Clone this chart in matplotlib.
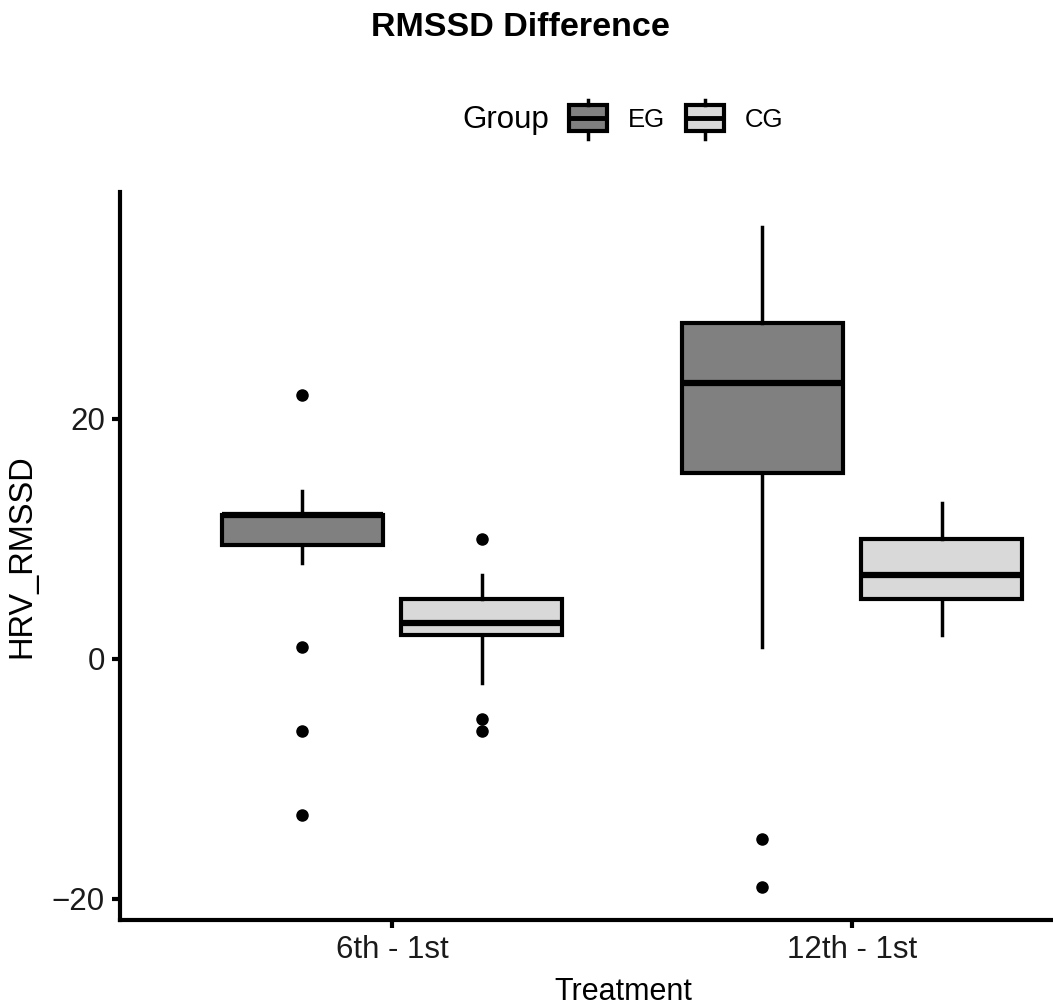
import matplotlib
matplotlib.use("Agg")
from matplotlib import pyplot as plt
from matplotlib.patches import Rectangle
from matplotlib.lines import Line2D

plt.rcParams['font.family'] = ['Liberation Sans', 'DejaVu Sans']

treatments = ["6th - 1st", "12th - 1st"]
groups = ["EG", "CG"]
colors = {"EG": "#808080", "CG": "#d9d9d9"}

# box statistics, per group, per treatment
q1 = {"EG": [9.5, 15.5], "CG": [2, 5]}
med = {"EG": [12, 23], "CG": [3, 7]}
q3 = {"EG": [12, 28], "CG": [5, 10]}
whislo = {"EG": [8, 1], "CG": [-2, 2]}
whishi = {"EG": [14, 36], "CG": [7, 13]}
fliers = {"EG": [[22, 1, -6, -13], [-15, -19]],
          "CG": [[10, -5, -6], []]}

W, H = 1053, 1005
fig = plt.figure(figsize=(W / 100, H / 100), dpi=100)
ax = fig.add_axes([0.114, 0.0846, 0.886, 0.7244])


def fx(x):
    return x / W


def fy(y):
    return 1 - y / H


offsets = {"EG": -0.195, "CG": 0.195}
for g in groups:
    stats = []
    for i in range(len(treatments)):
        stats.append(dict(q1=q1[g][i], med=med[g][i], q3=q3[g][i],
                          whislo=whislo[g][i], whishi=whishi[g][i],
                          fliers=fliers[g][i]))
    pos = [i + 1 + offsets[g] for i in range(len(treatments))]
    ax.bxp(stats, positions=pos, widths=0.35, patch_artist=True,
           showcaps=False,
           boxprops=dict(facecolor=colors[g], edgecolor="black", linewidth=3),
           medianprops=dict(color="black", linewidth=4.5, solid_capstyle="butt"),
           whiskerprops=dict(color="black", linewidth=2.5),
           flierprops=dict(marker="o", markerfacecolor="black",
                           markeredgecolor="black", markersize=8))

ax.set_xlim(0.409, 2.437)
ax.set_ylim(-21.75, 38.9)
ax.set_xticks([1, 2])
ax.set_xticklabels(treatments, fontsize=22.5, color="#1a1a1a")
ax.set_yticks([-20, 0, 20])
ax.set_yticklabels(["\u221220", "0", "20"], fontsize=22.5, color="#1a1a1a")
ax.tick_params(length=6, width=3, pad=5)
for s in ["top", "right"]:
    ax.spines[s].set_visible(False)
for s in ["left", "bottom"]:
    ax.spines[s].set_linewidth(3)
ax.set_xlabel("Treatment", fontsize=22)
ax.xaxis.set_label_coords(0.539, -0.078)
ax.set_ylabel("HRV_RMSSD", fontsize=23.5, labelpad=10)

fig.text(fx(520), fy(28), "RMSSD Difference", fontsize=24.5, fontweight="bold",
         ha="center", va="center")

# legend drawn by hand, title on the left of the keys
fig.text(fx(462), fy(120), "Group", fontsize=22.5, ha="left", va="center")
key_x = {"EG": 569, "CG": 686}
for g in groups:
    x0 = key_x[g]
    cx = x0 + 19
    fig.add_artist(Line2D([fx(cx), fx(cx)], [fy(100), fy(105)],
                          color="black", linewidth=2.5))
    fig.add_artist(Line2D([fx(cx), fx(cx)], [fy(131), fy(139)],
                          color="black", linewidth=2.5))
    fig.add_artist(Rectangle((fx(x0), fy(131)), fx(38), 26 / H,
                             facecolor=colors[g], edgecolor="black",
                             linewidth=3))
    fig.add_artist(Line2D([fx(x0 + 1), fx(x0 + 37)], [fy(118), fy(118)],
                          color="black", linewidth=3.5,
                          solid_capstyle="butt"))
    fig.text(fx(x0 + 59), fy(120), g, fontsize=18.5, ha="left", va="center")

fig.savefig("out.png", dpi=100)
